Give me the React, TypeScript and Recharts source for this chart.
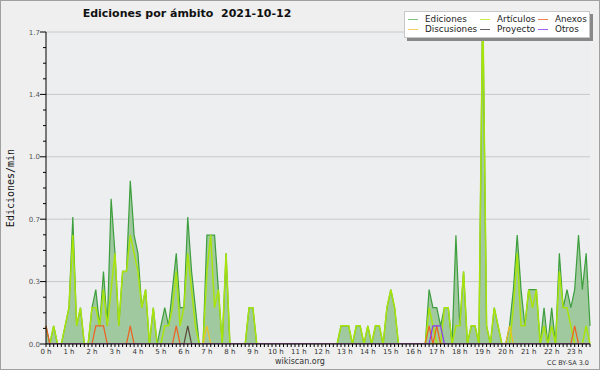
import { Area, CartesianGrid, ComposedChart, Line, XAxis, YAxis } from 'recharts';

// edits per minute, one value per 10-minute slot (0:00 .. 23:40)
const ediciones = [
  0.1, 0, 0.1, 0, 0, 0.1, 0.2, 0.7, 0.1, 0.2, 0, 0,
  0.2, 0.3, 0.1, 0.4, 0.1, 0.8, 0.5, 0.1, 0.4, 0.4, 0.9, 0.6,
  0.5, 0.2, 0.3, 0, 0.2, 0, 0.1, 0.2, 0.1, 0.3, 0.5, 0.2,
  0.2, 0.7, 0.4, 0.2, 0, 0, 0.6, 0.6, 0.6, 0.3, 0, 0.5,
  0, 0, 0, 0, 0, 0.2, 0.2, 0, 0, 0, 0, 0,
  0, 0, 0, 0, 0, 0, 0, 0, 0, 0, 0, 0,
  0, 0, 0, 0, 0, 0.1, 0.1, 0.1, 0, 0.1, 0.1, 0,
  0.1, 0, 0.1, 0.1, 0, 0.2, 0.3, 0.2, 0, 0, 0, 0,
  0, 0, 0, 0, 0.3, 0.2, 0.2, 0.1, 0.2, 0.2, 0, 0.6,
  0.1, 0.4, 0, 0.1, 0.1, 0, 1.9, 0.1, 0, 0.2, 0.1, 0,
  0, 0.1, 0.3, 0.6, 0.3, 0.1, 0.3, 0.3, 0.3, 0, 0.2, 0,
  0.2, 0, 0.5, 0.2, 0.3, 0.2, 0.3, 0.6, 0.3, 0.5, 0.1,
];

const articulos = [
  0, 0, 0.1, 0, 0, 0.1, 0.2, 0.6, 0.1, 0.2, 0, 0,
  0.2, 0.2, 0.1, 0.3, 0.1, 0.3, 0.5, 0.1, 0.4, 0.4, 0.6, 0.5,
  0.4, 0.2, 0.3, 0, 0.2, 0, 0, 0.1, 0.1, 0.2, 0.4, 0.1,
  0.2, 0.5, 0.3, 0.1, 0, 0, 0.4, 0.6, 0.2, 0.3, 0, 0.5,
  0, 0, 0, 0, 0, 0.2, 0.2, 0, 0, 0, 0, 0,
  0, 0, 0, 0, 0, 0, 0, 0, 0, 0, 0, 0,
  0, 0, 0, 0, 0, 0.1, 0.1, 0.1, 0, 0.1, 0.1, 0,
  0.1, 0, 0.1, 0.1, 0, 0.2, 0.3, 0.2, 0, 0, 0, 0,
  0, 0, 0, 0, 0.2, 0.1, 0, 0, 0.2, 0.2, 0, 0.1,
  0.1, 0.4, 0, 0.1, 0.1, 0, 1.9, 0.1, 0, 0.2, 0.1, 0,
  0, 0, 0.2, 0.5, 0.1, 0.1, 0.3, 0.2, 0.3, 0, 0.1, 0,
  0.1, 0, 0.4, 0.2, 0.2, 0.1, 0, 0, 0, 0.1, 0,
];

const anexos = [
  0.1, 0, 0, 0, 0, 0, 0, 0, 0, 0, 0, 0,
  0, 0.1, 0.1, 0.1, 0, 0, 0, 0, 0, 0, 0.1, 0,
  0, 0, 0, 0, 0, 0, 0, 0, 0, 0, 0.1, 0,
  0, 0, 0, 0, 0, 0, 0, 0, 0, 0, 0, 0,
  0, 0, 0, 0, 0, 0, 0, 0, 0, 0, 0, 0,
  0, 0, 0, 0, 0, 0, 0, 0, 0, 0, 0, 0,
  0, 0, 0, 0, 0, 0, 0, 0, 0, 0, 0, 0,
  0, 0, 0, 0, 0, 0, 0, 0, 0, 0, 0, 0,
  0, 0, 0, 0, 0.1, 0, 0.1, 0, 0, 0, 0, 0,
  0, 0, 0, 0, 0, 0, 0, 0, 0, 0, 0, 0,
  0, 0, 0, 0, 0, 0, 0, 0, 0, 0, 0, 0,
  0, 0, 0, 0, 0, 0, 0.1, 0, 0, 0, 0,
];

const discusiones = [
  0, 0, 0, 0, 0, 0, 0, 0, 0, 0, 0, 0,
  0, 0, 0, 0, 0, 0, 0, 0, 0, 0, 0, 0,
  0, 0, 0, 0, 0, 0, 0, 0, 0, 0, 0, 0,
  0, 0, 0, 0, 0, 0, 0.1, 0, 0, 0, 0, 0,
  0, 0, 0, 0, 0, 0, 0, 0, 0, 0, 0, 0,
  0, 0, 0, 0, 0, 0, 0, 0, 0, 0, 0, 0,
  0, 0, 0, 0, 0, 0, 0, 0, 0, 0, 0, 0,
  0, 0, 0, 0, 0, 0, 0, 0, 0, 0, 0, 0,
  0, 0, 0, 0, 0, 0, 0, 0, 0, 0, 0, 0,
  0, 0, 0, 0, 0, 0, 0, 0, 0, 0, 0, 0,
  0, 0.1, 0, 0, 0, 0, 0, 0, 0, 0, 0, 0,
  0, 0, 0, 0, 0, 0, 0, 0, 0, 0, 0,
];

const proyecto = [
  0, 0, 0, 0, 0, 0, 0, 0, 0, 0, 0, 0,
  0, 0, 0, 0, 0, 0, 0, 0, 0, 0, 0, 0,
  0, 0, 0, 0, 0, 0, 0, 0, 0, 0, 0, 0,
  0, 0.1, 0, 0, 0, 0, 0, 0, 0, 0, 0, 0,
  0, 0, 0, 0, 0, 0, 0, 0, 0, 0, 0, 0,
  0, 0, 0, 0, 0, 0, 0, 0, 0, 0, 0, 0,
  0, 0, 0, 0, 0, 0, 0, 0, 0, 0, 0, 0,
  0, 0, 0, 0, 0, 0, 0, 0, 0, 0, 0, 0,
  0, 0, 0, 0, 0, 0, 0, 0, 0, 0, 0, 0,
  0, 0, 0, 0, 0, 0, 0, 0, 0, 0, 0, 0,
  0, 0, 0, 0, 0, 0, 0, 0, 0, 0, 0, 0,
  0, 0, 0, 0, 0, 0, 0, 0, 0, 0, 0,
];

const otros = [
  0, 0, 0, 0, 0, 0, 0, 0, 0, 0, 0, 0,
  0, 0, 0, 0, 0, 0, 0, 0, 0, 0, 0, 0,
  0, 0, 0, 0, 0, 0, 0, 0, 0, 0, 0, 0,
  0, 0, 0, 0, 0, 0, 0, 0, 0, 0, 0, 0,
  0, 0, 0, 0, 0, 0, 0, 0, 0, 0, 0, 0,
  0, 0, 0, 0, 0, 0, 0, 0, 0, 0, 0, 0,
  0, 0, 0, 0, 0, 0, 0, 0, 0, 0, 0, 0,
  0, 0, 0, 0, 0, 0, 0, 0, 0, 0, 0, 0,
  0, 0, 0, 0, 0, 0.1, 0.1, 0.1, 0, 0, 0, 0,
  0, 0, 0, 0, 0, 0, 0, 0, 0, 0, 0, 0,
  0, 0, 0, 0, 0, 0, 0, 0, 0, 0, 0, 0,
  0, 0, 0, 0, 0, 0, 0, 0, 0, 0, 0,
];

const hourLabels = [
  '0 h', '1 h', '2 h', '3 h', '4 h', '5 h', '6 h', '7 h', '8 h', '9 h', '10 h', '11 h',
  '12 h', '13 h', '14 h', '15 h', '16 h', '17 h', '18 h', '19 h', '20 h', '21 h', '22 h', '23 h',
];
const yMajor = [0, 0.344, 0.688, 1.032, 1.376, 1.72];
const yMinorStep = 0.086;

const colors = {
  ediciones: '#3d9e3d',
  fill: '#a0c9a0',
  articulos: '#a8e40c',
  anexos: '#f0601e',
  discusiones: '#f0c020',
  proyecto: '#5a4638',
  otros: '#8a38f0',
};

const legendItems = [
  { label: 'Ediciones', color: '#7cc47c', col: 0, row: 0 },
  { label: 'Artículos', color: '#c4f04a', col: 1, row: 0 },
  { label: 'Anexos', color: '#f08050', col: 2, row: 0 },
  { label: 'Discusiones', color: '#f4d060', col: 0, row: 1 },
  { label: 'Proyecto', color: '#666060', col: 1, row: 1 },
  { label: 'Otros', color: '#a060f0', col: 2, row: 1 },
];

const data = ediciones.map((v, i) => ({
  t: i,
  ediciones: v,
  articulos: articulos[i],
  anexos: anexos[i],
  discusiones: discusiones[i],
  proyecto: proyecto[i],
  otros: otros[i],
}));

const xTicks = data.map((d) => d.t);
const yTicks = Array.from({ length: 21 }, (_, k) => +(k * yMinorStep).toFixed(3));

const font = '"DejaVu Sans", sans-serif';

function XTick({ x, y, payload }: any) {
  const v = payload.value as number;
  const isHour = v % 6 === 0;
  return (
    <g>
      <line x1={x} x2={x} y1={y} y2={y + 3} stroke="#000" />
      {isHour && (
        <text x={x} y={y + 10} textAnchor="middle" fontSize={7} fill="#333" fontFamily={font}>
          {hourLabels[v / 6]}
        </text>
      )}
    </g>
  );
}

function YTick({ x, y, payload }: any) {
  const v = payload.value as number;
  const isMajor = Math.round(v / yMinorStep) % 4 === 0;
  return (
    <g>
      <line x1={x - (isMajor ? 6 : 3)} x2={x} y1={y} y2={y} stroke="#000" />
      {isMajor && (
        <text x={x - 6} y={y + 2.5} textAnchor="end" fontSize={7} fill="#555" fontFamily={font}>
          {v.toFixed(1)}
        </text>
      )}
    </g>
  );
}

export default function App() {
  return (
    <div
      style={{
        position: 'fixed',
        left: 0,
        top: 0,
        width: 600,
        height: 370,
        background: '#efefef',
        fontFamily: font,
      }}
    >
      <ComposedChart
        width={600}
        height={370}
        data={data}
        margin={{ top: 32, right: 10, bottom: 10, left: 8 }}
      >
        <CartesianGrid
          vertical={false}
          horizontalValues={yMajor.slice(1)}
          stroke="#c8c8c8"
          fill="#eceef0"
        />
        <Area
          type="linear"
          dataKey="ediciones"
          stroke={colors.ediciones}
          strokeWidth={1.2}
          fill={colors.fill}
          fillOpacity={1}
          dot={false}
          activeDot={false}
          isAnimationActive={false}
        />
        <Line type="linear" dataKey="articulos" stroke={colors.articulos} strokeWidth={1.5} dot={false} activeDot={false} isAnimationActive={false} />
        <Line type="linear" dataKey="anexos" stroke={colors.anexos} strokeWidth={1.2} dot={false} activeDot={false} isAnimationActive={false} />
        <Line type="linear" dataKey="discusiones" stroke={colors.discusiones} strokeWidth={1.2} dot={false} activeDot={false} isAnimationActive={false} />
        <Line type="linear" dataKey="proyecto" stroke={colors.proyecto} strokeWidth={1.2} dot={false} activeDot={false} isAnimationActive={false} />
        <Line type="linear" dataKey="otros" stroke={colors.otros} strokeWidth={1.2} dot={false} activeDot={false} isAnimationActive={false} />
        <XAxis
          dataKey="t"
          type="number"
          domain={[0, 142]}
          ticks={xTicks}
          interval={0}
          height={16}
          tickSize={0}
          tickMargin={0}
          tickLine={false}
          axisLine={{ stroke: '#000' }}
          tick={<XTick />}
        />
        <YAxis
          type="number"
          domain={[0, 1.72]}
          allowDataOverflow
          ticks={yTicks}
          interval={0}
          width={38}
          tickSize={0}
          tickMargin={0}
          tickLine={false}
          axisLine={{ stroke: '#000' }}
          tick={<YTick />}
        />
      </ComposedChart>

      <svg
        width={600}
        height={370}
        style={{ position: 'absolute', left: 0, top: 0, pointerEvents: 'none' }}
      >
        <text x={187} y={17} textAnchor="middle" fontSize={11} fontWeight="bold" fill="#111" fontFamily={font}>
          {'Ediciones por ámbito\u00a0\u00a02021-10-12'}
        </text>
        <text
          x={14}
          y={188}
          transform="rotate(-90 14 188)"
          textAnchor="middle"
          fontSize={10}
          fill="#111"
          fontFamily='"DejaVu Sans Mono", monospace'
        >
          Ediciones/min
        </text>
        <text x={300} y={364} textAnchor="middle" fontSize={8} fill="#333" fontFamily={font}>
          wikiscan.org
        </text>
        <text x={589} y={365} textAnchor="end" fontSize={6.5} fill="#333" fontFamily={font}>
          CC BY-SA 3.0
        </text>
        <rect x={0.5} y={0.5} width={599} height={369} fill="none" stroke="#a0a0a0" />
      </svg>

      <div
        style={{
          position: 'absolute',
          left: 404,
          top: 11,
          width: 184,
          height: 25,
          background: '#fff',
          border: '1px solid #c8c8c8',
          boxShadow: '3px 3px 0 #888',
        }}
      >
        {legendItems.map((it) => (
          <div
            key={it.label}
            style={{
              position: 'absolute',
              left: [3, 75, 133][it.col],
              top: it.row === 0 ? 2 : 12,
              height: 10,
              display: 'flex',
              alignItems: 'center',
              fontSize: 8.8,
              lineHeight: '10px',
              color: '#222',
              whiteSpace: 'nowrap',
            }}
          >
            <span style={{ display: 'inline-block', width: 10, height: 1, background: it.color, marginRight: 7 }} />
            {it.label}
          </div>
        ))}
      </div>
    </div>
  );
}
